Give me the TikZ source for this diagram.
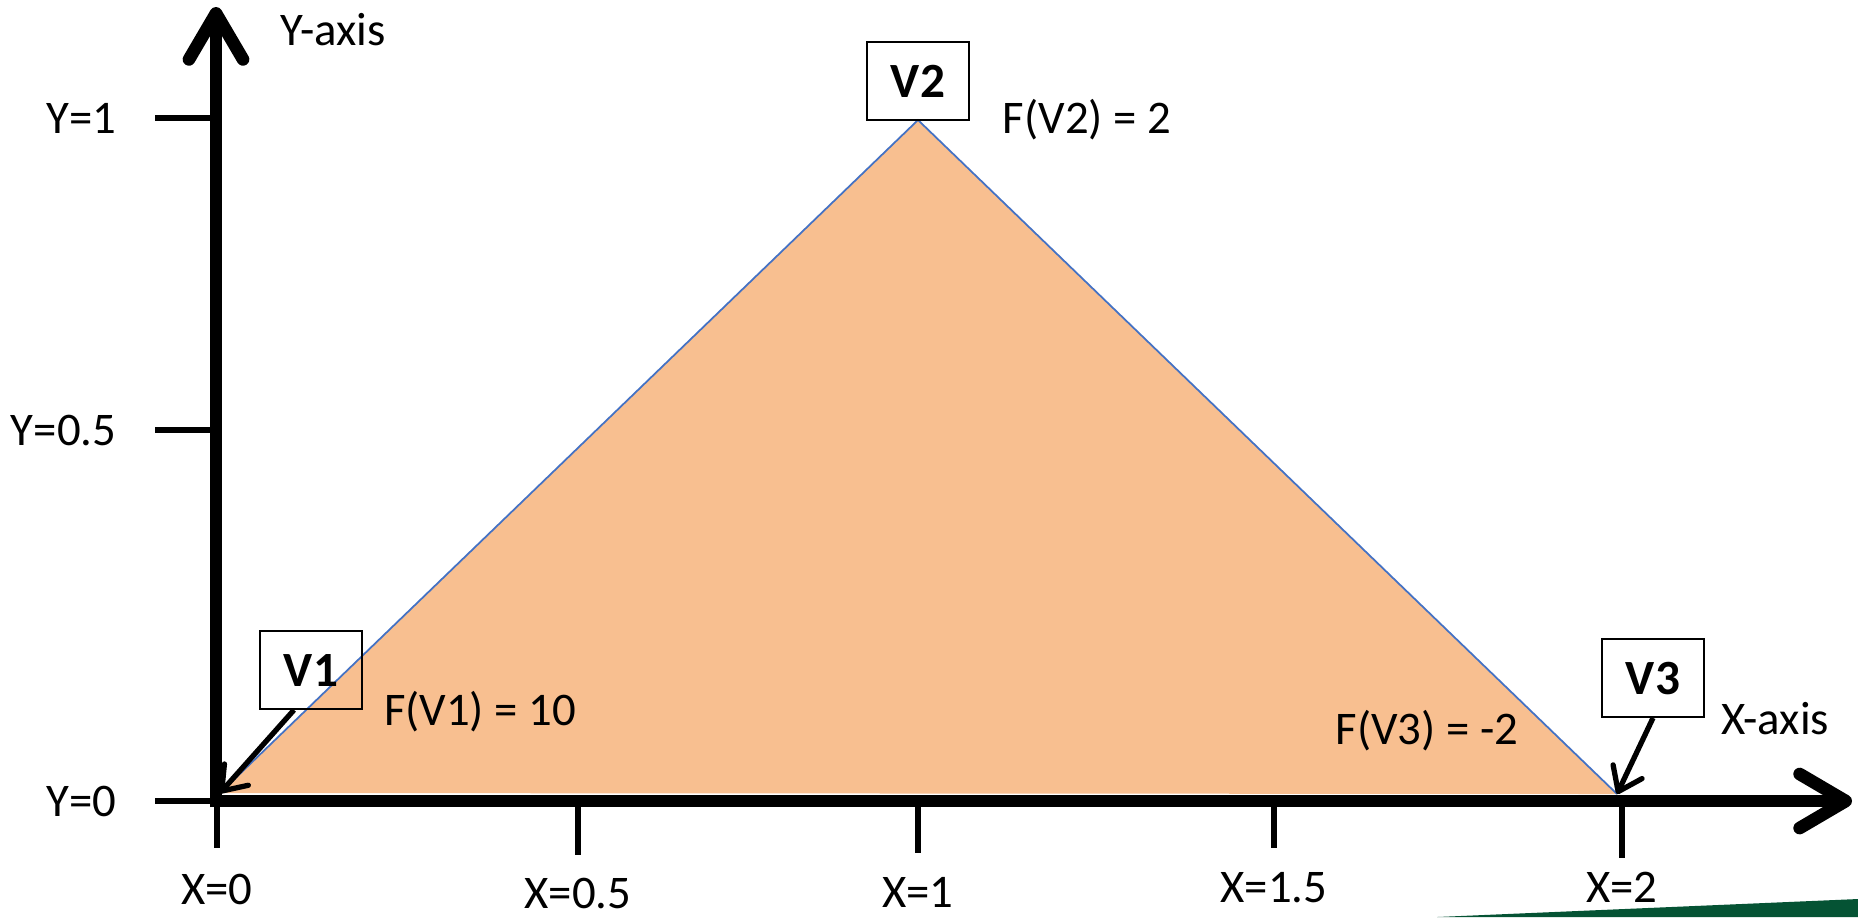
\documentclass[tikz,border=0pt]{standalone}
\usepackage{fontspec}
\setmainfont{Carlito}
\usetikzlibrary{arrows.meta, positioning}
\definecolor{peachtri}{RGB}{248,191,144}
\definecolor{bluetri}{RGB}{68,114,196}
\definecolor{greenbar}{RGB}{5,83,52}

\begin{document}
\begin{tikzpicture}[x=0.01cm, y=-0.01cm,
      axisline/.style={line width=3.6pt,
                       -{Straight Barb[length=0.46cm, width=0.54cm, round]}},
      tickline/.style={line width=1.7pt},
      lbl/.style={font=\fontsize{13.3}{16}\selectfont, inner sep=0pt,
                  text height=0.3cm, text depth=0pt},
      vbox/.style={draw, line width=0.5pt, minimum width=1.02cm,
                   minimum height=0.78cm, inner sep=0pt, text height=0.33cm,
                   text depth=0pt, font=\fontsize{14}{17}\selectfont\bfseries},
      ptr/.style={line width=1.5pt,
                  -{Straight Barb[length=0.22cm, width=0.32cm, round]}}]
    \useasboundingbox (0,0) rectangle (1858,917);
    % Triangle
    \coordinate (v1) at (220,793);
    \coordinate (v2) at (918,120);
    \coordinate (v3) at (1617,794);
    \fill[peachtri] (v1) -- (v2) -- (v3) -- cycle;
    \draw[bluetri, line width=0.5pt] (v1) -- (v2) -- (v3);
    % Axes
    \coordinate (O) at (216,807);
    \coordinate (ytip) at (216,7);
    \coordinate (xo) at (210,801);
    \coordinate (xtip) at (1852,801);
    \draw[axisline] (O) -- (ytip);
    \draw[axisline] (xo) -- (xtip);
    \foreach \n/\x/\b/\ly/\t in {0/217/848/889/0, 1/578/855/893/0.5,
                                 2/918/853/892/1, 3/1274/848/887/1.5,
                                 4/1622/858/887/2} {
      \coordinate (xt\n) at (\x,801);
      \coordinate (xb\n) at (\x,\b);
      \draw[tickline] (xt\n) -- (xb\n);
      \node[lbl] (xl\n) at (\x,\ly) {X=\t};
    }
    \foreach \n/\y/\t in {0/801/0, 1/430/0.5, 2/118/1} {
      \coordinate (yl\n) at (155,\y);
      \coordinate (yr\n) at (216,\y);
      \draw[tickline] (yl\n) -- (yr\n);
      \node[lbl, left=0.38cm of yl\n] (ylab\n) {Y=\t};
    }
    \node[lbl] (yname) at (333,30) {Y-axis};
    \node[lbl] (xname) at (1775,719) {X-axis};
    % Vertices
    \node[vbox] (b1) at (311,670) {V1};
    \node[vbox] (b2) at (918,81) {V2};
    \node[vbox] (b3) at (1653,678) {V3};
    \node[lbl] (f1) at (480,710) {F(V1) = 10};
    \node[lbl] (f2) at (1087,118) {F(V2) = 2};
    \node[lbl] (f3) at (1427,729) {F(V3) = -2};
    \draw[ptr] ([xshift=-0.17cm]b1.south) -- (v1);
    \draw[ptr] (b3.south) -- (v3);
    \fill[greenbar] (1437,917) -- (1858,899) -- (1858,917) -- cycle;
  \end{tikzpicture}
\end{document}
